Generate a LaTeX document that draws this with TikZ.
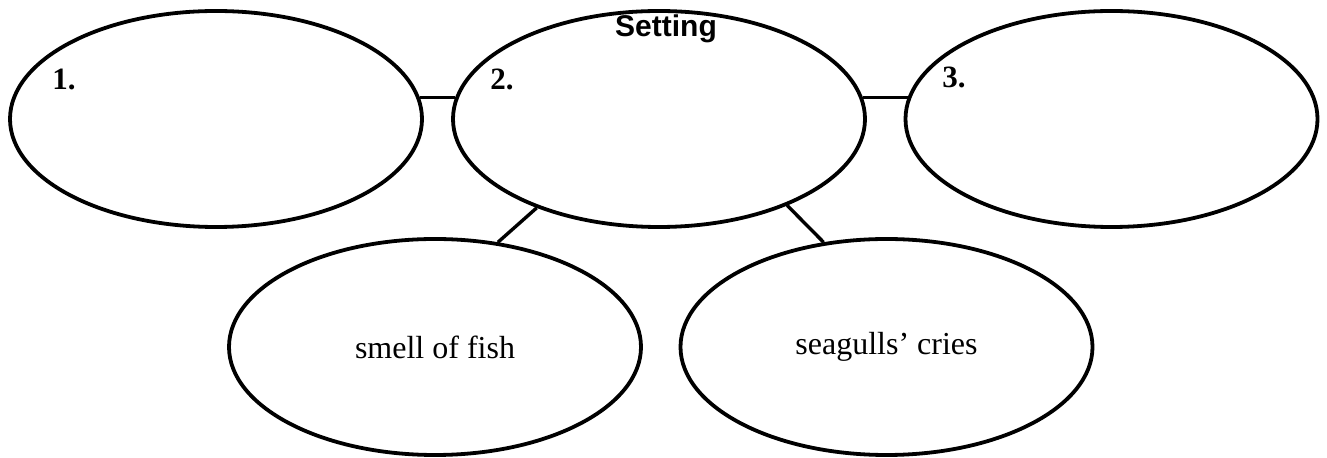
\documentclass[tikz,border=0pt]{standalone}
\usepackage{fontspec}
\setmainfont{Liberation Serif}
\newfontfamily\headfont{Liberation Sans}
\usetikzlibrary{shapes.geometric}

\begin{document}
\begin{tikzpicture}[x=0.5pt, y=-0.5pt,
    bubble/.style={draw, ellipse, line width=1.9pt, minimum width=206pt, minimum height=108pt, inner sep=0pt, font=\fontsize{16}{19}\selectfont},
    num/.style={anchor=base west, inner sep=0pt, font=\bfseries\fontsize{15.5}{18}\selectfont},
    link/.style={line width=1.7pt}]
    \useasboundingbox (0,0) rectangle (1327,458);

    % Top row of ellipses
    \node[bubble] (first) at (216,119) {};
    \node[bubble] (middle) at (659,119) {};
    \node[bubble] (third) at (1111.5,119) {};

    % Bottom row of ellipses
    \node[bubble] (smell) at (435,347) {smell of fish};
    \node[bubble] (sound) at (886.5,347) {seagulls’ cries};

    % Labels
    \node[font=\headfont\bfseries\fontsize{15}{17}\selectfont, inner sep=0pt] (title) at (666,29) {Setting};
    \node[num] (numA) at (52,90) {1.};
    \node[num] (numB) at (490,90) {2.};
    \node[num] (numC) at (942,88) {3.};

    % Connect the ellipses
    \draw[link] (first.6) -- (middle.174);
    \draw[link] (middle.6) -- (third.174);
    \draw[link] (middle.216) -- (smell.59);
    \draw[link] (middle.326) -- (sound.121);
\end{tikzpicture}
\end{document}
